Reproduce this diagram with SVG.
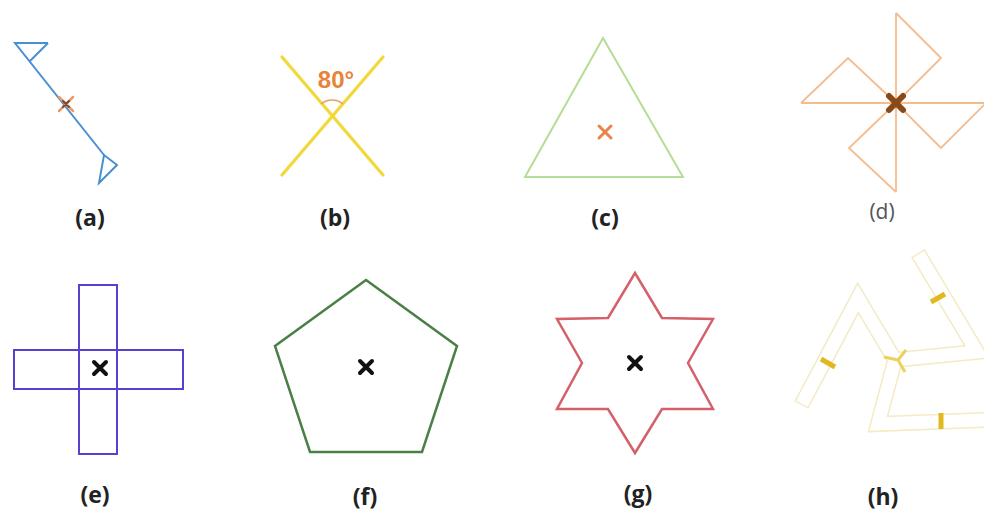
<svg xmlns="http://www.w3.org/2000/svg" width="984" height="516" viewBox="0 0 984 516">
<style>
.lbl{font-family:"Open Sans","Liberation Sans",sans-serif;font-weight:bold;font-size:23px;fill:#222;text-anchor:middle}
.shape{fill:none;stroke-linejoin:miter}
.bx{stroke:#111;stroke-width:4;stroke-linecap:round;fill:none}
.ox{stroke:#e8844a;stroke-width:3;stroke-linecap:round;fill:none}
</style>
<rect width="984" height="516" fill="#ffffff"/>

<g id="fig-a">
  <path class="shape" d="M48,43 L15,43 L104,155 M48,43 L30,61" stroke="#4a90d0" stroke-width="2"/>
  <path class="shape" d="M104,155 L117,165 L99,183 Z" stroke="#4a90d0" stroke-width="2"/>
  <path d="M59,97 L73,111 M73,97 L59,111" stroke="#e89a6a" stroke-width="2.5" stroke-linecap="round"/>
  <path d="M63,101 L69,107 M69,101 L63,107" stroke="#7a4a30" stroke-width="2" stroke-linecap="round"/>
  <text class="lbl" x="90" y="226">(a)</text>
</g>

<g id="fig-b">
  <path d="M282,57 L383,175 M383,57 L282,175" stroke="#f2d838" stroke-width="3.2" stroke-linecap="round"/>
  <path d="M321,104 A17,17 0 0 1 343,104" fill="none" stroke="#e8a060" stroke-width="1.5"/>
  <text x="336" y="88" font-family="'Liberation Sans',Arial,sans-serif" font-weight="bold" font-size="24" fill="#e8843a" text-anchor="middle">80°</text>
  <text class="lbl" x="335" y="226">(b)</text>
</g>

<g id="fig-c">
  <path class="shape" d="M603,38 L683,177 L525,177 Z" stroke="#b5dd95" stroke-width="2"/>
  <path class="ox" d="M599,126 L611,138 M611,126 L599,138"/>
  <text class="lbl" x="605" y="226">(c)</text>
</g>

<g id="fig-d">
  <path d="M896,13 L896,192 M801,103 L986,103" stroke="#f5bc8e" stroke-width="1.8"/>
  <path class="shape" d="M896,13 L941,58 L896,103 M986,103 L941,148 L896,103 M896,192 L849,148 L896,103 M801,103 L848,58 L896,103" stroke="#f5bc8e" stroke-width="1.8"/>
  <path d="M889,96 L903,110 M903,96 L889,110" stroke="#8a4a18" stroke-width="6" stroke-linecap="round"/>
  <text x="882" y="219" font-family="'Open Sans','Liberation Sans',sans-serif" font-size="21" fill="#555" text-anchor="middle">(d)</text>
</g>

<g id="fig-e">
  <rect class="shape" x="79" y="285" width="38" height="169" stroke="#5a3fd0" stroke-width="2"/>
  <rect class="shape" x="14" y="350" width="169" height="39" stroke="#5a3fd0" stroke-width="2"/>
  <path class="bx" d="M94,362 L106,374 M106,362 L94,374"/>
  <text class="lbl" x="95" y="503">(e)</text>
</g>

<g id="fig-f">
  <path class="shape" d="M366,280 L457,346 L422,452 L310,452 L275,346 Z" stroke="#4a7f45" stroke-width="2.5"/>
  <path class="bx" d="M360,361 L372,373 M372,361 L360,373"/>
  <text class="lbl" x="365" y="505">(f)</text>
</g>

<g id="fig-g">
  <path class="shape" d="M635,273 L662,318 L713,319 L688,363 L713,409 L662,409 L635,453 L608,409 L557,409 L582,363 L557,319 L608,318 Z" stroke="#d4606a" stroke-width="2.5"/>
  <path class="bx" d="M629,357 L641,369 M641,357 L629,369"/>
  <text class="lbl" x="638" y="502">(g)</text>
</g>

<g id="fig-h">
  <g fill="none" stroke-linejoin="miter" stroke-linecap="square">
    <path d="M895,360 L858,298 L805,398 M895,360 L977,352 L922,260 M895,360 L878,424 L984,420" stroke="#f3ebc4" stroke-width="16"/>
    <path d="M895,360 L858,298 L805,398 M895,360 L977,352 L922,260 M895,360 L878,424 L984,420" stroke="#ffffff" stroke-width="13"/>
  </g>
  <g fill="none" stroke="#e2b820" stroke-width="5" stroke-linecap="butt">
    <path d="M821,359 L835,367"/>
    <path d="M931,302 L945,294"/>
    <path d="M941,413 L941,429"/>
    <path d="M884,357 L898,360 L906,350 M898,360 L905,372" stroke-width="3" stroke="#ecd060"/>
  </g>
  <text class="lbl" x="883" y="505">(h)</text>
</g>
</svg>
